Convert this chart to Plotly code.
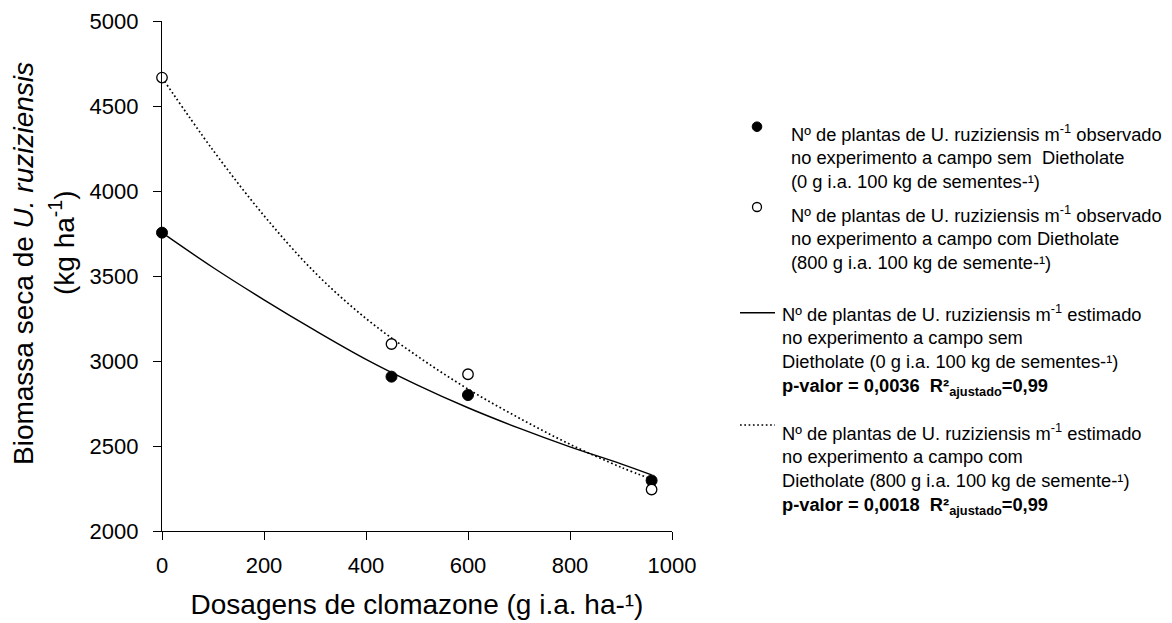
import plotly.graph_objects as go

# ---- data ----
dose = [0, 450, 600, 960]
obs_sem = [3755, 2908, 2800, 2297]      # sem Dietholate (filled)
obs_com = [4667, 3100, 2922, 2244]      # com Dietholate (open)

fit_x = [0, 100, 200, 300, 400, 500, 600, 700, 800, 900, 960]
fit_sem = [3755, 3550, 3360, 3180, 3010, 2860, 2725, 2605, 2495, 2395, 2330]
fit_com = [4667, 4240, 3855, 3520, 3250, 3030, 2835, 2665, 2510, 2375, 2305]

x_ticks = [0, 200, 400, 600, 800, 1000]
y_ticks = [2000, 2500, 3000, 3500, 4000, 4500, 5000]

legend_texts = [
    "Nº de plantas de U. ruziziensis m<sup>-1</sup> observado<br>"
    "no experimento a campo sem \u00a0Dietholate<br>"
    "(0 g i.a. 100 kg de sementes-¹)",
    "Nº de plantas de U. ruziziensis m<sup>-1</sup> observado<br>"
    "no experimento a campo com Dietholate<br>"
    "(800 g i.a. 100 kg de semente-¹)",
    "Nº de plantas de U. ruziziensis m<sup>-1</sup> estimado<br>"
    "no experimento a campo sem<br>"
    "Dietholate (0 g i.a. 100 kg de sementes-¹)<br>"
    "<b>p-valor = 0,0036\u00a0\u00a0R²<sub>ajustado</sub>=0,99</b>",
    "Nº de plantas de U. ruziziensis m<sup>-1</sup> estimado<br>"
    "no experimento a campo com<br>"
    "Dietholate (800 g i.a. 100 kg de semente-¹)<br>"
    "<b>p-valor = 0,0018\u00a0\u00a0R²<sub>ajustado</sub>=0,99</b>",
]

FONT = "Liberation Sans, Arial, sans-serif"
W, H = 1172, 623
ML, MR, MT, MB = 162, 500, 21, 92
PW, PH = W - ML - MR, H - MT - MB


def px(xp):
    return (xp - ML) / PW


def py(yp):
    return (H - MB - yp) / PH


fig = go.Figure()
fig.add_trace(go.Scatter(x=fit_x, y=fit_sem, mode="lines", line=dict(color="black", width=1.4, shape="spline"),
                         showlegend=False, hoverinfo="skip"))
fig.add_trace(go.Scatter(x=fit_x, y=fit_com, mode="lines",
                         line=dict(color="black", width=1.7, dash="1.7px,2.6px", shape="spline"),
                         showlegend=False, hoverinfo="skip"))
fig.add_trace(go.Scatter(x=dose, y=obs_sem, mode="markers", cliponaxis=False,
                         marker=dict(symbol="circle", size=11, color="black", line=dict(color="black", width=1)),
                         showlegend=False))
fig.add_trace(go.Scatter(x=dose, y=obs_com, mode="markers", cliponaxis=False,
                         marker=dict(symbol="circle", size=10.5, color="white", line=dict(color="black", width=1.3)),
                         showlegend=False))

axis_common = dict(showline=True, linecolor="black", linewidth=1.2, ticks="outside", ticklen=8, tickwidth=1.2,
                   tickcolor="black", showgrid=False, zeroline=False, tickfont=dict(family=FONT, size=22, color="black"))

fig.update_xaxes(range=[0, 1000], tickvals=x_ticks, ticklabelstandoff=6,
                 title=dict(text="Dosagens de clomazone (g i.a. ha-¹)", font=dict(family=FONT, size=28, color="black"),
                            standoff=17), **axis_common)
fig.update_yaxes(range=[2000, 5000], tickvals=y_ticks, ticklabelstandoff=10, **axis_common)

annotations = [
    dict(text="Biomassa seca de <i>U. ruziziensis</i>", textangle=-90, x=px(23), y=py(264),
         xanchor="center", yanchor="middle", font=dict(family=FONT, size=28, color="black")),
    dict(text="(kg ha<sup>-1</sup>)", textangle=-90, x=px(62), y=py(243),
         xanchor="center", yanchor="middle", font=dict(family=FONT, size=28, color="black")),
]
text_pos = [(789, 139.3), (789, 220.0), (780, 319.3), (780, 438.3)]
for t, (tx, base) in zip(legend_texts, text_pos):
    annotations.append(dict(text=t, x=px(tx), y=py(base - 20.3), xanchor="left", yanchor="top", align="left",
                            showarrow=False, font=dict(family=FONT, size=18.3, color="black")))
for a in annotations:
    a.setdefault("showarrow", False)
    a["xref"] = "paper"
    a["yref"] = "paper"

shapes = [
    dict(type="circle", xref="paper", yref="paper", xsizemode="pixel", ysizemode="pixel",
         xanchor=px(757), yanchor=py(126.7), x0=-4.8, x1=4.8, y0=-4.8, y1=4.8,
         fillcolor="black", line=dict(color="black", width=1)),
    dict(type="circle", xref="paper", yref="paper", xsizemode="pixel", ysizemode="pixel",
         xanchor=px(757), yanchor=py(207), x0=-4.5, x1=4.5, y0=-4.5, y1=4.5,
         fillcolor="white", line=dict(color="black", width=1.3)),
    dict(type="line", xref="paper", yref="paper", x0=px(740), x1=px(775), y0=py(312.7), y1=py(312.7),
         line=dict(color="black", width=1.4)),
    dict(type="line", xref="paper", yref="paper", x0=px(740), x1=px(775), y0=py(425), y1=py(425),
         line=dict(color="black", width=1.7, dash="1.7px,2.6px")),
]

fig.update_layout(width=W, height=H, margin=dict(l=ML, r=MR, t=MT, b=MB, autoexpand=False),
                  paper_bgcolor="white", plot_bgcolor="white", showlegend=False,
                  font=dict(family=FONT, color="black"), annotations=annotations, shapes=shapes)

fig.write_html("out.html", config={"displayModeBar": False})
